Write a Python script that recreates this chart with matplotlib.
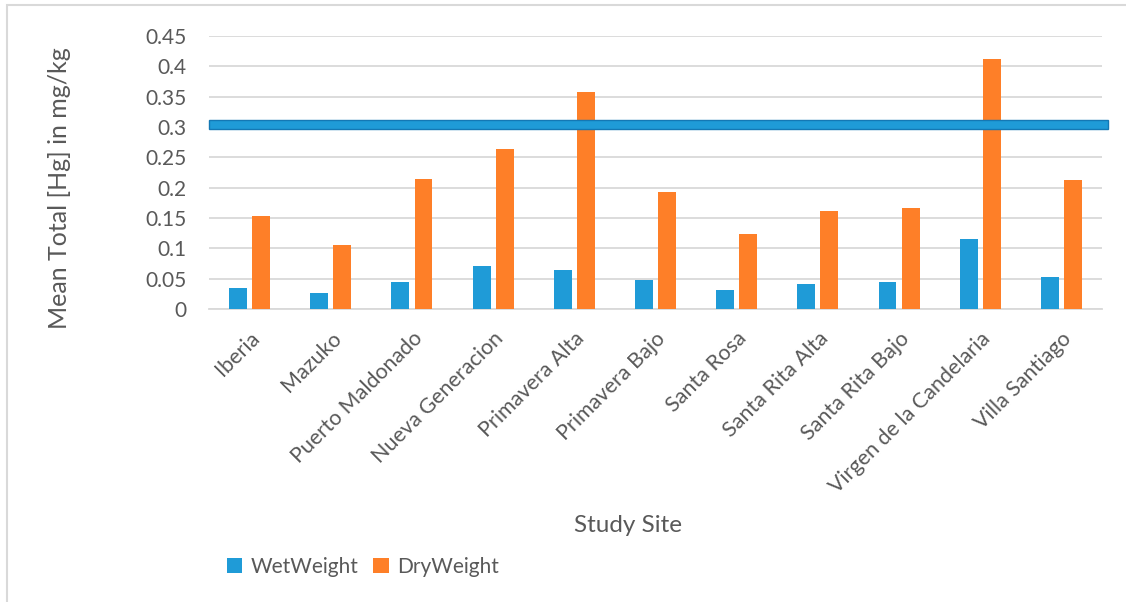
import numpy as np
import matplotlib
matplotlib.use('Agg')
import matplotlib.pyplot as plt
from matplotlib.patches import Rectangle

sites = ['Iberia', 'Mazuko', 'Puerto Maldonado', 'Nueva Generacion',
         'Primavera Alta', 'Primavera Bajo', 'Santa Rosa', 'Santa Rita Alta',
         'Santa Rita Bajo', 'Virgen de la Candelaria', 'Villa Santiago']
wet = [0.035, 0.027, 0.044, 0.071, 0.065, 0.048, 0.031, 0.041, 0.044, 0.115, 0.052]
dry = [0.154, 0.106, 0.214, 0.263, 0.358, 0.193, 0.123, 0.162, 0.166, 0.412, 0.213]
limit_low, limit_high = 0.296, 0.3115
yticks = [0, 0.05, 0.1, 0.15, 0.2, 0.25, 0.3, 0.35, 0.4, 0.45]
ytick_labels = ['0', '0.05', '0.1', '0.15', '0.2', '0.25', '0.3', '0.35', '0.4', '0.45']

plt.rcParams['font.family'] = ['Lato', 'DejaVu Sans']
txt = '#595959'
blue = '#1f9bd7'
orange = '#fe7f28'

fig = plt.figure(figsize=(11.26, 6.02), dpi=100)
# outer chart frame
fig.patches.append(Rectangle((7 / 1126, -0.1), 1.2, 1 - 5 / 602 + 0.1,
                             transform=fig.transFigure, fill=False,
                             edgecolor='#d9d9d9', linewidth=1.5))

ax = fig.add_axes([209 / 1126, 1 - 309 / 602, 893 / 1126, 273 / 602])
x = np.arange(len(sites))
w = 0.22
ax.bar(x - 0.142, wet, w, color=blue, label='WetWeight', zorder=3)
ax.bar(x + 0.142, dry, w, color=orange, label='DryWeight', zorder=3)

# threshold band
ax.axhspan(limit_low, limit_high, xmin=0, xmax=1.0065, facecolor=blue,
           edgecolor='#1478b4', linewidth=1, zorder=4, clip_on=False)

ax.set_xlim(-0.5, len(sites) - 0.5)
ax.set_ylim(0, 0.45)
ax.set_yticks(yticks)
ax.set_yticklabels(ytick_labels)
ax.yaxis.grid(True, color='#d9d9d9', linewidth=1.3, zorder=0)
for s in ['top', 'right', 'left']:
    ax.spines[s].set_visible(False)
ax.spines['bottom'].set_color('#d9d9d9')
ax.spines['bottom'].set_linewidth(1.3)

ax.set_xticks(x)
ax.set_xticklabels(sites, rotation=45, ha='right', rotation_mode='anchor',
                   va='top')
ax.tick_params(axis='x', length=0, pad=14, labelsize=15.5, labelcolor=txt)
ax.tick_params(axis='y', length=0, pad=16, labelsize=15, labelcolor=txt)

ax.set_ylabel('Mean Total [Hg] in mg/kg', fontsize=18, color=txt)
ax.yaxis.set_label_coords(-0.155, 0.443)
ax.set_xlabel('Study Site', fontsize=17.5, color=txt)
ax.xaxis.set_label_coords(0.469, -0.755)

fig.legend(loc='center left', bbox_to_anchor=(208 / 1126, 1 - 567 / 602),
           frameon=False, ncol=2, fontsize=15, labelcolor=txt,
           handlelength=0.75, handleheight=0.75, handletextpad=0.4,
           columnspacing=0.7)

fig.savefig('out.png', dpi=100)
